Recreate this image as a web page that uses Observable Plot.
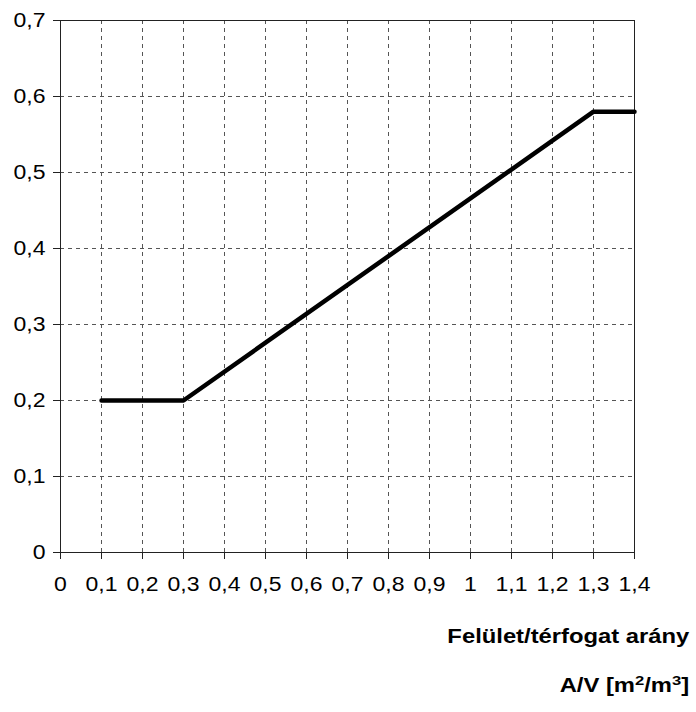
<!DOCTYPE html>
<html>
<head>
<meta charset="utf-8">
<script src="https://cdn.jsdelivr.net/npm/d3@7"></script>
<script src="https://cdn.jsdelivr.net/npm/@observablehq/plot@0.6"></script>
<style>
  body { margin: 0; background: #fff; }
  #wrap { position: relative; width: 696px; height: 712px; font-family: "Liberation Sans", Arial, sans-serif; }
  .lab { position: absolute; right: 7px; font-weight: bold; font-size: 19.5px; line-height: 20px; color: #000; white-space: nowrap; transform: scaleX(1.22); transform-origin: right center; }
  .lab sup { font-size: 0.7em; line-height: 0; vertical-align: 0.5em; }
</style>
</head>
<body>
<div id="wrap">
  <div id="chart"></div>
  <div class="lab" style="top:626px">Felület/térfogat arány</div>
  <div class="lab" style="top:675px">A/V [m<sup>2</sup>/m<sup>3</sup>]</div>
</div>
<script>
const ratio = [0.1, 0.3, 1.3, 1.4];
const value = [0.2, 0.2, 0.58, 0.58];
const xTicks = [0, 0.1, 0.2, 0.3, 0.4, 0.5, 0.6, 0.7, 0.8, 0.9, 1, 1.1, 1.2, 1.3, 1.4];
const yTicks = [0, 0.1, 0.2, 0.3, 0.4, 0.5, 0.6, 0.7];

const data = ratio.map((r, i) => ({x: r, y: value[i]}));
const fmt = d => String(d).replace(".", ",");

const chart = Plot.plot({
  width: 696,
  height: 600,
  marginLeft: 60,
  marginRight: 62,
  marginTop: 20,
  marginBottom: 48,
  style: {fontFamily: "'Liberation Sans', Arial, sans-serif", fontSize: "19.5px", color: "#000", background: "#fff"},
  x: {domain: [0, 1.4], label: null},
  y: {domain: [0, 0.7], label: null},
  marks: [
    Plot.ruleX(xTicks.filter(d => d > 0 && d < 1.4), {stroke: "#555", strokeWidth: 1, strokeDasharray: "4,4"}),
    Plot.ruleY(yTicks.filter(d => d > 0 && d < 0.7), {stroke: "#555", strokeWidth: 1, strokeDasharray: "4,4"}),
    Plot.frame({stroke: "#222", strokeWidth: 1}),
    Plot.axisX({ticks: xTicks, tickFormat: fmt, tickSize: 7, tickPadding: 18, stroke: "#222", label: null}),
    Plot.axisY({ticks: yTicks, tickFormat: fmt, tickSize: 7, tickPadding: 8, stroke: "#222", label: null}),
    Plot.line(data, {x: "x", y: "y", stroke: "#000", strokeWidth: 4.5, strokeLinejoin: "miter"})
  ]
});
chart.querySelectorAll('[aria-label="x-axis tick label"] text, [aria-label="y-axis tick label"] text').forEach(t => {
  const tr = t.getAttribute("transform") || "";
  t.setAttribute("transform", (tr + " scale(1.18,1)").trim());
});
document.getElementById("chart").appendChild(chart);
</script>
</body>
</html>
